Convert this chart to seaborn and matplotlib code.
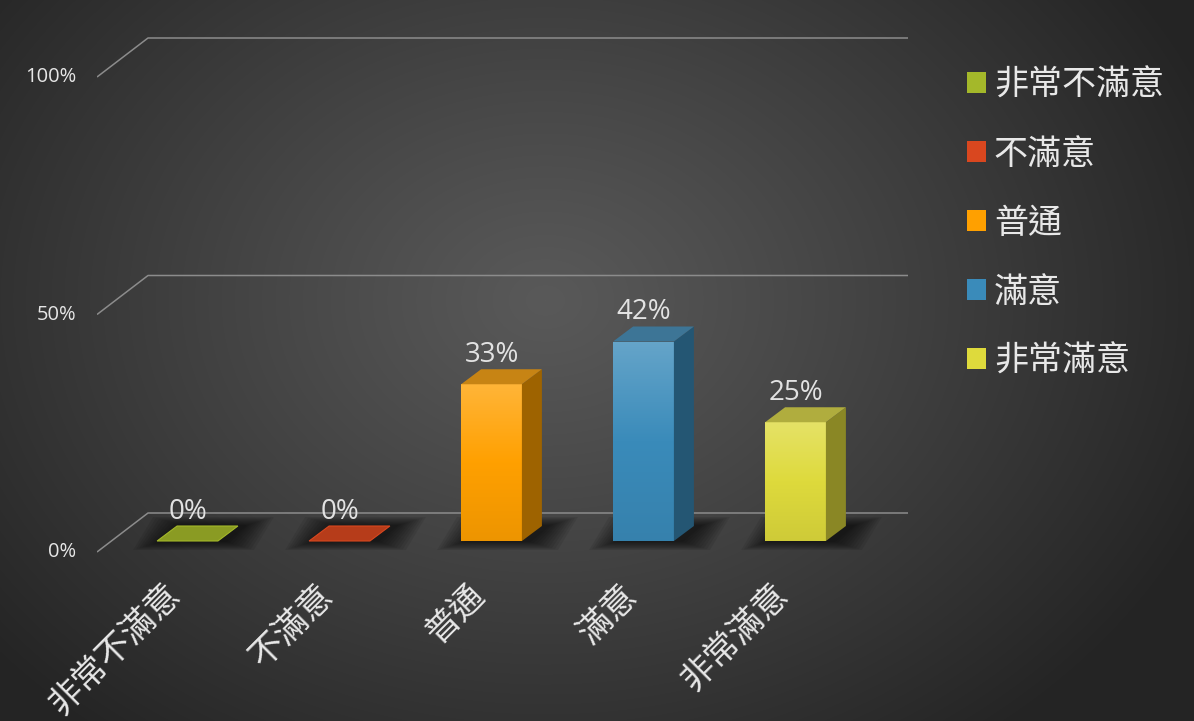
import numpy as np
import pandas as pd
import matplotlib
matplotlib.use("Agg")
import matplotlib.pyplot as plt
from matplotlib.patches import Polygon, Patch
from matplotlib.colors import to_rgb
import seaborn as sns

# ---- data ----
categories = ["非常不滿意", "不滿意", "普通", "滿意", "非常滿意"]
values = [0, 0, 33, 42, 25]
bar_colors = ["#A4B82A", "#D9471F", "#FFA000", "#3A8BBA", "#DEDA3C"]
ytick_values = [0, 50, 100]
ytick_labels = ["0%", "50%", "100%"]

sns.set_theme(style="white")
plt.rcParams["font.family"] = ["Noto Sans CJK TC", "DejaVu Sans"]
num_font = ["Open Sans", "DejaVu Sans"]

W, H = 1194, 721
fig = plt.figure(figsize=(W / 100, H / 100), dpi=100)

# radial background
bg = fig.add_axes([0, 0, 1, 1])
yy, xx = np.mgrid[0:H, 0:W]
r = np.sqrt(((xx - 545) / 720.0) ** 2 + ((yy - 300) / 560.0) ** 2)
t = np.clip(r, 0, 1) ** 1.1
c0, c1 = np.array([0x59, 0x59, 0x59]) / 255, np.array([0x24, 0x24, 0x24]) / 255
img = c0[None, None, :] * (1 - t[..., None]) + c1[None, None, :] * t[..., None]
bg.imshow(img, extent=[0, W, H, 0], aspect="auto")
bg.set_axis_off()

# main axes: 152 px per category, 4.75 px per percent
px_left, px_right, px_top, px_bot = 97, 908, 20, 600
ax = fig.add_axes([px_left / W, 1 - px_bot / H, (px_right - px_left) / W, (px_bot - px_top) / H])
ax.set_facecolor("none")
xpx = 152.0
ypx = 4.75
x_lo = (px_left - 187.5) / xpx
x_hi = (px_right - 187.5) / xpx
y_lo = (541 - px_bot) / ypx
y_hi = (541 - px_top) / ypx

df = pd.DataFrame({"cat": categories, "val": values})
sns.barplot(data=df, x="cat", y="val", hue="cat", palette=bar_colors,
            width=0.4, legend=False, ax=ax, saturation=1, linewidth=0, zorder=3)

# perspective grid: front edge, diagonal, back wall
front_drop = 11 / ypx
back_rise = 28 / ypx
wall_dx = 51 / xpx
for v in ytick_values:
    ax.plot([x_lo, x_lo + wall_dx, x_hi], [v - front_drop, v + back_rise, v + back_rise],
            color="#8C8C8C", lw=1.1, zorder=1, solid_capstyle="butt")
for v, lab in zip(ytick_values, ytick_labels):
    ax.text(x_lo - 21 / xpx, v - front_drop, lab, ha="right", va="center",
            color="#E6E6E6", fontsize=14.5, family=num_font, clip_on=False)

# bar depth
bdx = 20 / xpx
bdy = 15 / ypx


def shade(c, f):
    return tuple(np.clip(np.array(to_rgb(c)) * f, 0, 1))


def lighten(c, f):
    c = np.array(to_rgb(c))
    return tuple(c + (1 - c) * f)


bars = list(ax.patches)
for bar, col, val in zip(bars, bar_colors, values):
    x0 = bar.get_x()
    x1 = x0 + bar.get_width()
    h = bar.get_height()
    # soft floor shadow
    for k in range(10):
        gx = (10 - k) * 3.0 / xpx
        gy = (10 - k) * 0.9 / ypx
        shx = 6 / xpx
        ax.add_patch(Polygon([(x0 - gx + shx, -gy), (x1 + gx + shx, -gy),
                              (x1 + bdx + gx + shx, bdy + gy), (x0 + bdx - gx + shx, bdy + gy)],
                             closed=True, facecolor="black", edgecolor="none",
                             alpha=0.08, zorder=2))
    if h > 0:
        # vertical gradient on the front face
        grad = np.linspace(0, 1, 200)[:, None]
        top_c = np.array(lighten(col, 0.22))
        mid_c = np.array(to_rgb(col))
        bot_c = np.array(shade(col, 0.93))
        g = np.where(grad < 0.5, top_c * (1 - grad * 2) + mid_c * grad * 2,
                     mid_c * (2 - grad * 2) + bot_c * (grad * 2 - 1))
        im = ax.imshow(g.reshape(200, 1, 3), extent=[x0, x1, 0, h], origin="upper",
                       aspect="auto", zorder=4, interpolation="bilinear")
        im.set_clip_path(bar)
        # side face
        ax.add_patch(Polygon([(x1, 0), (x1 + bdx, bdy), (x1 + bdx, h + bdy), (x1, h)],
                             closed=True, facecolor=shade(col, 0.62), edgecolor="none", zorder=4))
        # top face
        ax.add_patch(Polygon([(x0, h), (x1, h), (x1 + bdx, h + bdy), (x0 + bdx, h + bdy)],
                             closed=True, facecolor=shade(lighten(col, 0.1), 0.78),
                             edgecolor="none", zorder=4))
    else:
        ax.add_patch(Polygon([(x0, 0), (x1, 0), (x1 + bdx, bdy), (x0 + bdx, bdy)],
                             closed=True, facecolor=shade(col, 0.84),
                             edgecolor=shade(col, 1.0), lw=0.8, zorder=4))
    ax.text(x0 + bar.get_width() / 2, h + bdy + 3.0, f"{val:.0f}%",
            ha="center", va="center", color="#E2E2E2", fontsize=20,
            family=num_font, zorder=6)

# rotated category labels
for i, lab in enumerate(categories):
    ax.text(i - 12 / xpx, (541 - 590) / ypx, lab, rotation=45, rotation_mode="anchor",
            ha="right", va="center", color="#E8E8E8", fontsize=24.5, clip_on=False)

ax.set_xlim(x_lo, x_hi)
ax.set_ylim(y_lo, y_hi)
ax.set_axis_off()

# legend
handles = [Patch(facecolor=c, edgecolor="none") for c in bar_colors]
fig.legend(handles, categories, loc="upper left", bbox_to_anchor=(953 / W, 1 - 54 / H),
           frameon=False, fontsize=24.5, labelcolor="#E8E8E8", handlelength=0.58,
           handleheight=0.58, handletextpad=0.22, labelspacing=1.0, borderaxespad=0)

fig.savefig("out.png", dpi=100)
